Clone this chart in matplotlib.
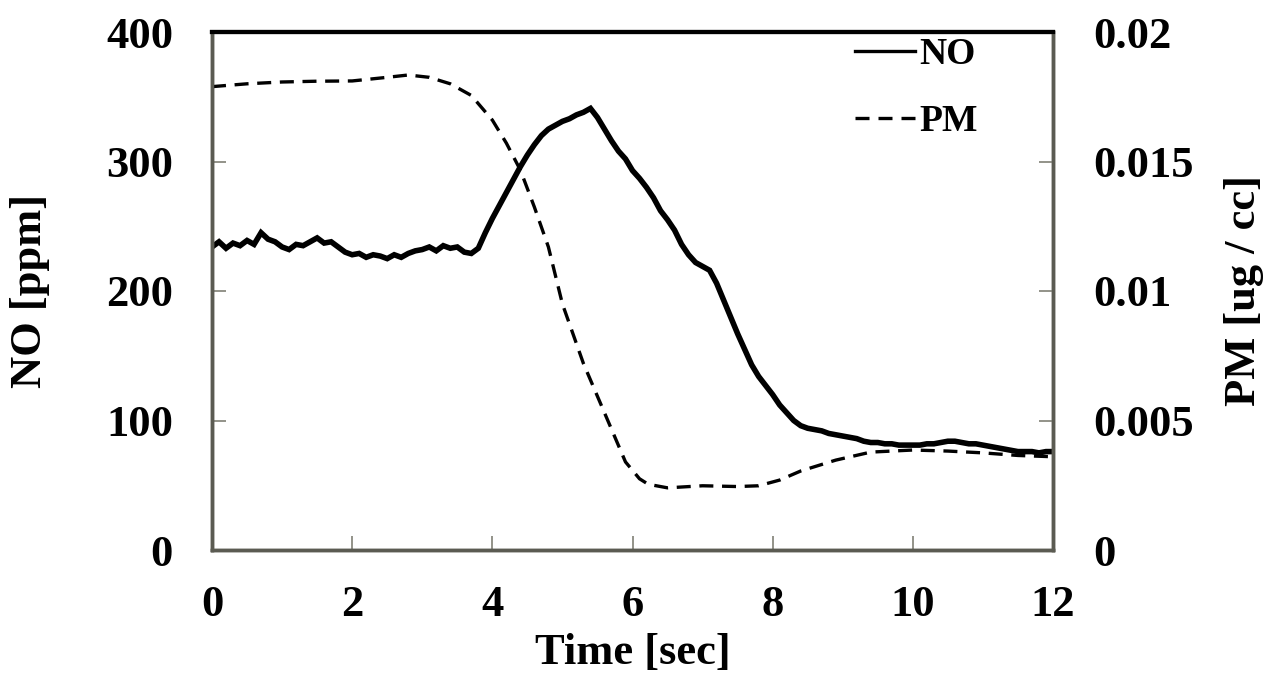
import matplotlib
matplotlib.use("Agg")
import matplotlib.pyplot as plt
from matplotlib.lines import Line2D
from matplotlib.ticker import FuncFormatter

# ---- data ----
no_time = [round(0.1 * i, 1) for i in range(121)]
no_ppm = [234, 238, 233, 237, 235, 239, 236, 245, 240, 238,
          234, 232, 236, 235, 238, 241, 237, 238, 234, 230,
          228, 229, 226, 228, 227, 225, 228, 226, 229, 231,
          232, 234, 231, 235, 233, 234, 230, 229, 233, 245,
          256, 266, 276, 286, 296, 305, 313, 320, 325, 328,
          331, 333, 336, 338, 341, 334, 325, 316, 308, 302,
          293, 287, 280, 272, 262, 255, 247, 236, 228, 222,
          219, 216, 206, 193, 180, 167, 155, 143, 134, 127,
          120, 112, 106, 100, 96, 94, 93, 92, 90, 89,
          88, 87, 86, 84, 83, 83, 82, 82, 81, 81,
          81, 81, 82, 82, 83, 84, 84, 83, 82, 82,
          81, 80, 79, 78, 77, 76, 76, 76, 75, 76, 76]

pm_time = [0, 0.5, 1, 1.5, 2, 2.5, 2.8, 3.1, 3.4, 3.7, 4.0, 4.2, 4.4, 4.6,
           4.8, 5.0, 5.3, 5.6, 5.9, 6.1, 6.2, 6.3, 6.5, 7.0, 7.5, 7.8, 8.1,
           8.4, 8.9, 9.4, 10.0, 10.5, 11.0, 11.5, 12.0]
pm_ugcc = [0.01789, 0.01800, 0.01807, 0.01810, 0.01811, 0.01825, 0.01834,
           0.01825, 0.01800, 0.01755, 0.01660, 0.01571, 0.01467, 0.01324,
           0.01170, 0.00950, 0.00720, 0.00530, 0.00340, 0.00275, 0.00258,
           0.00250, 0.00240, 0.00248, 0.00245, 0.00248, 0.00270, 0.00305,
           0.00347, 0.00378, 0.00386, 0.00382, 0.00375, 0.00365, 0.00360]

x_ticks = [0, 2, 4, 6, 8, 10, 12]
no_ticks = [0, 100, 200, 300, 400]
pm_ticks = [0, 0.005, 0.01, 0.015, 0.02]

# ---- figure ----
plt.rcParams['font.family'] = ['Liberation Serif', 'DejaVu Serif']
plt.rcParams['font.weight'] = 'bold'

fig = plt.figure(figsize=(12.65, 6.74), dpi=100)
ax = fig.add_axes([212 / 1265, 1 - 550 / 674, (1053 - 212) / 1265, (550 - 32) / 674])
ax2 = ax.twinx()

ax.plot(no_time, no_ppm, color='black', lw=4.0, solid_joinstyle='miter')
ax2.plot(pm_time, pm_ugcc, color='black', lw=2.4, linestyle=(0, (4.2, 2.6)))

ax.set_xlim(0, 12)
ax.set_ylim(0, 400)
ax2.set_ylim(0, 0.02)
ax.set_xticks(x_ticks)
ax.set_yticks(no_ticks)
ax2.set_yticks(pm_ticks)
ax2.yaxis.set_major_formatter(FuncFormatter(lambda v, p: '0' if v == 0 else ('%g' % v)))

spine_col = '#5b5b52'
for a in (ax, ax2):
    for s in ('left', 'right', 'bottom'):
        a.spines[s].set_color(spine_col)
        a.spines[s].set_linewidth(2.5)
    a.spines['top'].set_color('black')
    a.spines['top'].set_linewidth(3.0)

FS = 32
ax.tick_params(axis='x', direction='in', length=10, width=1.3, color='#8a8a80',
               labelsize=FS, pad=25)
ax.tick_params(axis='y', direction='in', length=10, width=1.3, color='#8a8a80',
               labelsize=FS, pad=28)
ax2.tick_params(axis='y', direction='in', length=10, width=1.3, color='#8a8a80',
                labelsize=FS, pad=29)

ax.set_xlabel('Time [sec]', fontsize=FS, fontweight='bold', labelpad=6)
ax.set_ylabel('NO [ppm]', fontsize=FS, fontweight='bold', labelpad=40)
ax2.set_ylabel('PM [ug / cc]', fontsize=FS, fontweight='bold', labelpad=22)

handles = [Line2D([], [], color='black', lw=2.4),
           Line2D([], [], color='black', lw=2.4, linestyle=(0, (4.2, 2.7)))]
leg = ax2.legend(handles, ['NO', 'PM'], loc='upper right',
                 bbox_to_anchor=(0.911, 0.99), frameon=False,
                 prop={'family': 'Liberation Serif', 'weight': 'bold', 'size': 27},
                 handlelength=1.6, handletextpad=0.13, labelspacing=0.86,
                 borderaxespad=0.0, borderpad=0.0)

fig.savefig('out.png', dpi=100)
